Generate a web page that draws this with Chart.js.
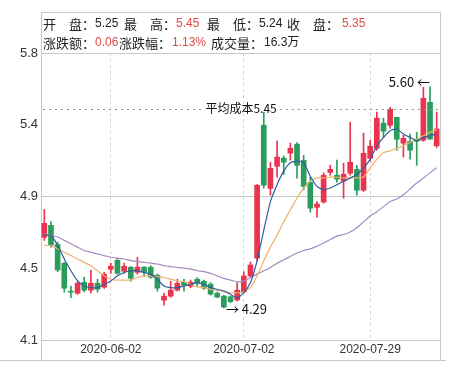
<!DOCTYPE html>
<html>
<head>
<meta charset="utf-8">
<script src="https://cdn.jsdelivr.net/npm/chart.js@4/dist/chart.umd.min.js"></script>
<style>
  html, body { margin: 0; padding: 0; background: #fff; }
  #wrap { width: 450px; height: 373px; }
</style>
</head>
<body>
<div id="wrap"><canvas id="kline" width="450" height="373"></canvas></div>
<script>
// trading days
const dates = [
  '2020-05-19','2020-05-20','2020-05-21','2020-05-22','2020-05-25','2020-05-26','2020-05-27','2020-05-28','2020-05-29','2020-06-01',
  '2020-06-02','2020-06-03','2020-06-04','2020-06-05','2020-06-08','2020-06-09','2020-06-10','2020-06-11','2020-06-12','2020-06-15',
  '2020-06-16','2020-06-17','2020-06-18','2020-06-19','2020-06-22','2020-06-23','2020-06-24','2020-06-29','2020-06-30','2020-07-01',
  '2020-07-02','2020-07-03','2020-07-06','2020-07-07','2020-07-08','2020-07-09','2020-07-10','2020-07-13','2020-07-14','2020-07-15',
  '2020-07-16','2020-07-17','2020-07-20','2020-07-21','2020-07-22','2020-07-23','2020-07-24','2020-07-27','2020-07-28','2020-07-29',
  '2020-07-30','2020-07-31','2020-08-03','2020-08-04','2020-08-05','2020-08-06','2020-08-07','2020-08-10','2020-08-11','2020-08-12'
];
const shownDates = ['2020-06-02', '2020-07-02', '2020-07-29'];

const opens = [4.708,4.779,4.665,4.554,4.388,4.377,4.442,4.395,4.436,4.413,
               4.519,4.572,4.507,4.531,4.501,4.531,4.531,4.484,4.336,4.360,
               4.395,4.442,4.419,4.460,4.448,4.431,4.377,4.360,4.356,4.337,
               4.384,4.479,4.585,5.372,4.998,5.129,5.177,5.207,5.260,5.164,
               5.034,4.886,4.917,5.093,5.076,5.041,5.088,5.111,4.987,5.176,
               5.236,5.384,5.372,5.419,5.266,5.276,5.289,5.283,5.508,5.250];
const highs = [4.873,4.802,4.680,4.560,4.420,4.448,4.472,4.513,4.460,4.500,
               4.554,4.584,4.555,4.535,4.590,4.535,4.540,4.490,4.377,4.448,
               4.460,4.460,4.455,4.470,4.455,4.440,4.385,4.365,4.360,4.440,
               4.504,4.562,5.020,5.449,5.153,5.278,5.190,5.266,5.270,5.194,
               5.064,4.920,5.090,5.135,5.165,5.147,5.390,5.135,5.325,5.283,
               5.450,5.414,5.478,5.420,5.313,5.320,5.330,5.597,5.600,5.450];
const lows  = [4.690,4.650,4.505,4.383,4.350,4.370,4.385,4.377,4.383,4.405,
               4.495,4.490,4.495,4.448,4.490,4.478,4.465,4.389,4.307,4.354,
               4.390,4.389,4.410,4.419,4.400,4.366,4.350,4.290,4.320,4.330,
               4.380,4.470,4.570,5.000,4.958,5.064,5.080,5.165,5.058,4.990,
               4.857,4.828,4.910,5.076,5.035,4.940,5.076,4.958,4.980,5.160,
               5.224,5.301,5.355,5.224,5.183,5.171,5.135,5.277,5.290,5.240];
const closes = [4.791,4.661,4.515,4.407,4.383,4.436,4.395,4.436,4.401,4.490,
                4.537,4.495,4.537,4.466,4.531,4.501,4.472,4.407,4.360,4.395,
                4.436,4.425,4.442,4.436,4.407,4.372,4.354,4.295,4.327,4.395,
                4.479,4.544,5.017,5.017,5.117,5.183,5.153,5.236,5.135,5.010,
                4.881,4.905,5.076,5.111,5.053,5.082,5.153,4.987,5.206,5.248,
                5.414,5.337,5.467,5.289,5.295,5.224,5.277,5.532,5.290,5.350];

// moving average lines
const ma5 = [4.72,4.72,4.66,4.58,4.51,4.45,4.42,4.41,4.41,4.43,
             4.45,4.48,4.50,4.51,4.51,4.50,4.49,4.46,4.42,4.41,
             4.41,4.42,4.43,4.44,4.43,4.41,4.40,4.39,4.37,4.35,
             4.38,4.44,4.57,4.75,4.92,5.02,5.10,5.15,5.16,5.15,
             5.07,5.01,4.99,5.00,5.02,5.04,5.06,5.08,5.12,5.17,
             5.25,5.30,5.34,5.35,5.32,5.30,5.28,5.30,5.31,5.32];
const ma10 = [4.66,4.66,4.64,4.62,4.60,4.58,4.56,4.54,4.51,4.48,
              4.46,4.455,4.455,4.455,4.47,4.48,4.48,4.475,4.47,4.46,
              4.45,4.445,4.43,4.415,4.41,4.40,4.395,4.385,4.38,4.38,
              4.385,4.41,4.48,4.57,4.65,4.72,4.80,4.87,4.94,5.00,
              5.04,5.06,5.06,5.065,5.065,5.06,5.06,5.06,5.065,5.12,
              5.17,5.21,5.22,5.235,5.25,5.27,5.29,5.31,5.33,5.345];
const ma20 = [4.73,4.72,4.71,4.69,4.67,4.65,4.63,4.62,4.61,4.60,
              4.59,4.585,4.58,4.57,4.565,4.56,4.555,4.55,4.54,4.535,
              4.53,4.525,4.52,4.51,4.505,4.495,4.48,4.465,4.455,4.445,
              4.45,4.47,4.49,4.51,4.53,4.555,4.575,4.595,4.615,4.63,
              4.64,4.655,4.675,4.695,4.715,4.725,4.74,4.765,4.80,4.835,
              4.86,4.89,4.92,4.935,4.96,4.995,5.03,5.06,5.09,5.12];

const yTickValues = [4.1, 4.525, 4.95, 5.375, 5.8];
const yTickLabels = ['4.1', '4.5', '4.9', '5.4', '5.8'];
const yGridValues = [4.1, 4.95, 5.8];

const avgCostText = '平均成本5.45';
const avgCostLine = 5.47;
const maxIdx = 58, maxText = '5.60 ←';
const minIdx = 27, minText = '→ 4.29';

const infoRow1 = [['开　盘：', '5.25', false], ['最　高：', '5.45', true], ['最　低：', '5.24', false], ['收　盘：', '5.35', true]];
const infoRow2 = [['涨跌额：', '0.06', true], ['涨跌幅：', '1.13%', true], ['成交量：', '16.3万', false]];

const UP = '#e8344e', DOWN = '#2a9d5c';
const candleColors = closes.map((c, i) => c >= opens[i] ? UP : DOWN);

const FONT = '"Liberation Sans", "Noto Sans CJK SC", sans-serif';
const CJK = '"Noto Sans CJK SC", "Liberation Sans", sans-serif';

const framePlugin = {
  id: 'frame',
  beforeDraw(chart) {
    const ctx = chart.ctx;
    const a = chart.chartArea;
    ctx.save();
    ctx.fillStyle = '#fff';
    ctx.fillRect(0, 0, chart.width, chart.height);
    ctx.strokeStyle = '#c8c8c8';
    ctx.lineWidth = 1;
    ctx.beginPath();
    ctx.moveTo(a.left + 0.5, 12.5); ctx.lineTo(a.right + 0.5, 12.5);
    ctx.moveTo(a.left + 0.5, 12.5); ctx.lineTo(a.left + 0.5, 360.5);
    ctx.moveTo(a.right + 0.5, 12.5); ctx.lineTo(a.right + 0.5, 360.5);
    ctx.moveTo(0, 360.5); ctx.lineTo(446, 360.5);
    ctx.stroke();
    ctx.restore();
  },
  afterDatasetsDraw(chart) {
    const ctx = chart.ctx;
    const a = chart.chartArea;
    const xs = chart.scales.x, ys = chart.scales.y;
    ctx.save();

    // average cost dotted line + label
    ctx.font = '12px ' + CJK;
    ctx.textBaseline = 'middle';
    const cy = Math.round(ys.getPixelForValue(avgCostLine)) + 0.5;
    const lblRight = xs.getPixelForValue(33) + 13;
    const lblW = ctx.measureText(avgCostText).width;
    ctx.strokeStyle = '#8a8a8a';
    ctx.setLineDash([2, 4]);
    ctx.beginPath();
    ctx.moveTo(a.left + 2, cy); ctx.lineTo(lblRight - lblW - 3, cy);
    ctx.moveTo(lblRight + 3, cy); ctx.lineTo(a.right, cy);
    ctx.stroke();
    ctx.setLineDash([]);
    ctx.fillStyle = '#111';
    ctx.textAlign = 'right';
    ctx.fillText(avgCostText, lblRight, cy - 1);

    // max / min markers
    ctx.font = '13px ' + CJK;
    ctx.textAlign = 'right';
    ctx.fillText(maxText, xs.getPixelForValue(maxIdx), ys.getPixelForValue(highs[maxIdx]) - 5);
    ctx.textAlign = 'left';
    ctx.fillText(minText, xs.getPixelForValue(minIdx) + 2, ys.getPixelForValue(lows[minIdx]) + 1);

    // info box
    const drawRow = (row, y, pos) => {
      row.forEach((seg, k) => {
        ctx.font = '13px ' + CJK;
        ctx.fillStyle = '#222';
        ctx.fillText(seg[0], pos[k][0], y);
        ctx.font = '12px ' + FONT;
        ctx.fillStyle = seg[2] ? '#dd4b45' : '#222';
        ctx.fillText(seg[1], pos[k][1], y);
      });
    };
    ctx.textAlign = 'left';
    drawRow(infoRow1, 24, [[43, 95], [124, 176], [207, 259], [287, 342]]);
    drawRow(infoRow2, 43, [[43, 95], [119, 172], [211, 264]]);
    ctx.restore();
  }
};

new Chart(document.getElementById('kline'), {
  type: 'bar',
  data: {
    labels: dates,
    datasets: [
      { type: 'line', data: ma5, borderColor: '#2f5d9c', borderWidth: 1.2, pointRadius: 0, tension: 0.2, order: 0 },
      { type: 'line', data: ma10, borderColor: '#f0b26a', borderWidth: 1.2, pointRadius: 0, tension: 0.2, order: 0 },
      { type: 'line', data: ma20, borderColor: '#a58ac2', borderWidth: 1.2, pointRadius: 0, tension: 0.2, order: 0 },
      { data: opens.map((o, i) => [o, closes[i]]), backgroundColor: candleColors, barThickness: 5, minBarLength: 1, grouped: false, order: 1 },
      { data: lows.map((l, i) => [l, highs[i]]), backgroundColor: candleColors, barThickness: 1, grouped: false, order: 2 }
    ]
  },
  options: {
    responsive: false,
    animation: false,
    layout: { padding: { top: 53, right: 10, left: 0, bottom: 0 } },
    plugins: { legend: { display: false }, tooltip: { enabled: false } },
    scales: {
      x: {
        offset: true,
        afterFit(scale) { scale.height = 33; },
        grid: {
          offset: false,
          drawTicks: false,
          color: ctx => shownDates.includes(dates[ctx.index]) ? '#d6d6d6' : 'rgba(0,0,0,0)'
        },
        border: { display: false, dash: [3, 3] },
        ticks: {
          autoSkip: false, maxRotation: 0, padding: 2,
          color: '#333', font: { size: 12, family: FONT },
          callback: (v, i) => shownDates.includes(dates[i]) ? dates[i] : ''
        }
      },
      y: {
        min: 4.1, max: 5.8,
        afterFit(scale) { scale.width = 41; },
        afterBuildTicks(scale) { scale.ticks = yTickValues.map(v => ({ value: v })); },
        grid: {
          drawTicks: false,
          color: ctx => yGridValues.includes(ctx.tick.value) ? '#c8c8c8' : 'rgba(0,0,0,0)'
        },
        border: { display: false },
        ticks: {
          padding: 3, color: '#333', font: { size: 13, family: FONT },
          callback: (v, i) => yTickLabels[i]
        }
      }
    }
  },
  plugins: [framePlugin]
});
</script>
</body>
</html>
